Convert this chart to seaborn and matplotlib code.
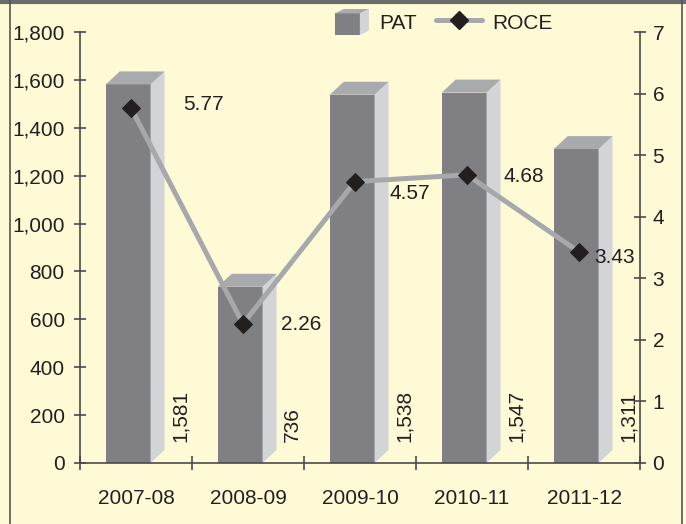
import numpy as np
import pandas as pd
import matplotlib
matplotlib.use("Agg")
import matplotlib.pyplot as plt
import seaborn as sns
from matplotlib import font_manager
from matplotlib.patches import Polygon, Rectangle
from matplotlib.lines import Line2D
from matplotlib.legend_handler import HandlerBase
from matplotlib.ticker import FuncFormatter

# ---- data ----
years = ["2007-08", "2008-09", "2009-10", "2010-11", "2011-12"]
pat = [1581, 736, 1538, 1547, 1311]
roce = [5.77, 2.26, 4.57, 4.68, 3.43]
pat_labels = ["1,581", "736", "1,538", "1,547", "1,311"]
roce_labels = ["5.77", "2.26", "4.57", "4.68", "3.43"]

# label offsets (pixels) for the ROCE values
roce_offsets = [(73, 3), (58, -1), (55, -12), (57, -2), (36, -6)]

# ---- colours ----
BG = "#fffad6"
FRONT = "#808084"
TOP = "#a9aaae"
SIDE = "#d3d4d8"
LINE = "#a7a8ac"
AXIS = "#4a4a4a"
TXT = "#231f20"
FS = 15

sns.set_style("ticks")
installed = {f.name for f in font_manager.fontManager.ttflist}
fam = [n for n in ["Liberation Sans Narrow", "DejaVu Sans Condensed", "Liberation Sans"] if n in installed]
plt.rcParams["font.family"] = fam + ["DejaVu Sans"]
plt.rcParams["font.size"] = FS
plt.rcParams["text.color"] = TXT

fig = plt.figure(figsize=(6.86, 5.24), dpi=100, facecolor=BG)
ax = fig.add_axes([80 / 686, 61 / 524, 560 / 686, 431 / 524])
ax.set_facecolor("none")

df = pd.DataFrame({"year": years, "pat": pat, "roce": roce})

# front faces of the bars
sns.barplot(data=df, x="year", y="pat", ax=ax, color=FRONT, width=0.4,
            saturation=1, edgecolor="none", linewidth=0, zorder=2)

# fake 3d depth
dx = 14 / 112
dy = 13 / 431 * 1800
for p in list(ax.patches):
    p.set_x(p.get_x() - 0.07)
    x0 = p.get_x()
    x1 = x0 + p.get_width()
    h = p.get_height()
    ax.add_patch(Polygon([(x1, 0), (x1, h), (x1 + dx, h + dy), (x1 + dx, dy)],
                         closed=True, fc=SIDE, ec="none", zorder=2))
    ax.add_patch(Polygon([(x0, h), (x1, h), (x1 + dx, h + dy), (x0 + dx, h + dy)],
                         closed=True, fc=TOP, ec="none", zorder=2))

for i, lbl in enumerate(pat_labels):
    ax.text(i + 0.40, 88, lbl, rotation=90, ha="center", va="bottom",
            fontsize=FS, color=TXT, zorder=3)

ax.set_xlim(-0.5, 4.5)
ax.set_ylim(0, 1800)
ax.set_yticks(range(0, 1801, 200))
ax.yaxis.set_major_formatter(FuncFormatter(lambda v, _: f"{int(v):,}"))
ax.set_xticks(range(len(years)))
ax.set_xticklabels(years)
ax.set_xticks(np.arange(-0.5, len(years)), minor=True)
ax.set_xlabel("")
ax.set_ylabel("")

for s in ["top", "right"]:
    ax.spines[s].set_visible(False)
for s in ["left", "bottom"]:
    ax.spines[s].set_color(AXIS)
    ax.spines[s].set_linewidth(1.2)

ax.tick_params(axis="y", direction="inout", length=8, width=1.2, color=AXIS,
               pad=7, labelsize=FS, labelcolor=TXT)
ax.tick_params(axis="x", which="major", length=0, pad=19, labelsize=FS, labelcolor=TXT)
ax.tick_params(axis="x", which="minor", direction="inout", length=10, width=1.2, color=AXIS)

# ---- ROCE line on the right axis ----
ax2 = ax.twinx()
ax2.set_facecolor("none")
xpos = np.arange(len(roce)) - 0.045
sns.lineplot(x=xpos, y=roce, ax=ax2, color=LINE, linewidth=3.6, marker="D",
             markersize=9, markerfacecolor=TXT, markeredgecolor=TXT, zorder=4)
ax2.set_ylim(0, 7)
ax2.set_yticks(range(0, 8))
ax2.set_xlim(-0.5, 4.5)
ax2.set_ylabel("")
for s in ["top", "left", "bottom"]:
    ax2.spines[s].set_visible(False)
ax2.spines["right"].set_color(AXIS)
ax2.spines["right"].set_linewidth(1.2)
ax2.tick_params(axis="y", direction="inout", length=8, width=1.2, color=AXIS,
                pad=5, labelsize=FS, labelcolor=TXT)

for i, (v, lbl) in enumerate(zip(roce, roce_labels)):
    ax2.annotate(lbl, (xpos[i], v), xytext=roce_offsets[i], textcoords="offset pixels",
                 ha="center", va="center", fontsize=FS, color=TXT)


# ---- legend ----
class BoxHandler(HandlerBase):
    def create_artists(self, legend, orig_handle, xdescent, ydescent,
                       width, height, fontsize, trans):
        fw, sw, th, fh = 18, 6.5, 3.2, 15.5
        x0 = -xdescent + width - (fw + sw)
        y0 = -ydescent + (height - fh - th) / 2
        front = Rectangle((x0, y0), fw, fh, fc=FRONT, ec="none", transform=trans)
        side = Polygon([(x0 + fw, y0), (x0 + fw, y0 + fh), (x0 + fw + sw, y0 + fh + th),
                        (x0 + fw + sw, y0 + th)], fc=SIDE, ec="none", transform=trans)
        top = Polygon([(x0, y0 + fh), (x0 + fw, y0 + fh), (x0 + fw + sw, y0 + fh + th),
                       (x0 + sw, y0 + fh + th)], fc=TOP, ec="none", transform=trans)
        return [front, side, top]


box_handle = Rectangle((0, 0), 1, 1)
line_handle = Line2D([], [], color=LINE, lw=3.6, marker="D", ms=9,
                     markerfacecolor=TXT, markeredgecolor=TXT)
fig.legend([box_handle, line_handle], ["PAT", "ROCE"],
           handler_map={box_handle: BoxHandler()},
           loc="center", bbox_to_anchor=(0.638, 0.958), ncol=2, frameon=False,
           numpoints=1, handlelength=2.2, handleheight=1.25, handletextpad=0.5,
           columnspacing=0.9, fontsize=FS)

# ---- frame around the picture ----
fig.add_artist(Line2D([0, 1], [0.997, 0.997], transform=fig.transFigure, color="#6b6b6b", lw=3))
fig.add_artist(Line2D([10 / 686, 10 / 686], [0, 1], transform=fig.transFigure, color="#555555", lw=1.2))
fig.add_artist(Line2D([682 / 686, 682 / 686], [0, 1], transform=fig.transFigure, color="#555555", lw=1.2))

fig.savefig("out.png", dpi=100, facecolor=BG)
